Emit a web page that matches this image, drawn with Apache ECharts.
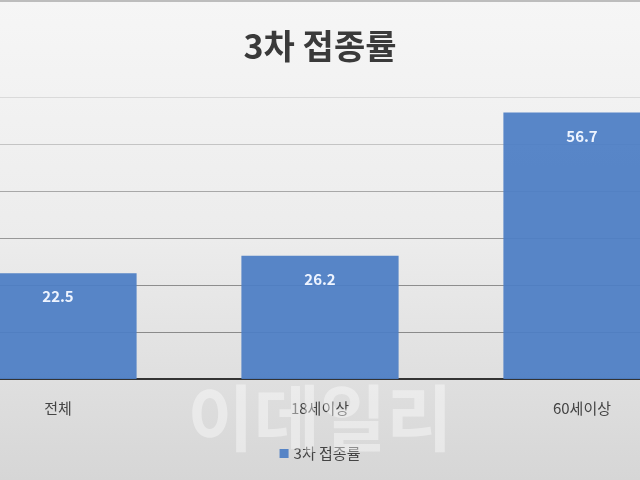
<!DOCTYPE html>
<html><head><meta charset="utf-8">
<script src="https://cdn.jsdelivr.net/npm/echarts@6/dist/echarts.min.js"></script>
<style>html,body{margin:0;padding:0}#c{width:640px;height:480px}</style>
</head><body><div id="c"></div>
<script>
const categories = ['전체', '18세이상', '60세이상'];
const values = [22.5, 26.2, 56.7];
const seriesName = '3차 접종률';
const titleText = '3차 접종률';

const chart = echarts.init(document.getElementById('c'));
const font = '"Noto Sans CJK KR", "Noto Sans", sans-serif';
chart.setOption({
  backgroundColor: new echarts.graphic.LinearGradient(0, 0, 0, 1, [
    {offset: 0, color: '#f6f6f6'},
    {offset: 0.5, color: '#ececec'},
    {offset: 1, color: '#d6d6d6'}
  ]),
  title: {
    text: titleText, left: 'center', top: 24,
    textStyle: {fontFamily: font, fontSize: 34, fontWeight: 'bold', color: '#3a3a3a'}
  },
  legend: {
    bottom: 14, left: 'center', itemWidth: 9, itemHeight: 9, icon: 'rect', itemGap: 4,
    textStyle: {fontFamily: font, fontSize: 15, color: '#444'}
  },
  grid: {left: -73, width: 786, top: 97, height: 282, outerBoundsMode: 'none', containLabel: false},
  xAxis: {
    type: 'category', data: categories,
    axisLine: {lineStyle: {color: '#333', width: 2}},
    axisTick: {show: false},
    axisLabel: {fontFamily: font, fontSize: 15, color: '#444', margin: 22}
  },
  yAxis: {
    type: 'value', min: 0, max: 60, interval: 10,
    axisLabel: {show: false}, axisLine: {show: false}, axisTick: {show: false},
    splitLine: {lineStyle: {color: ['#888', '#8a8a8a', '#8e8e8e', '#989898', '#a8a8a8', '#c4c4c4', '#dadada'], width: 1}}
  },
  series: [{
    name: seriesName, type: 'bar', data: values, barWidth: '60%',
    itemStyle: {color: 'rgba(78,126,197,0.94)'},
    label: {
      show: true, position: 'insideTop', distance: 16,
      fontFamily: font, fontSize: 15, fontWeight: 'bold', color: '#eef4ff'
    }
  }],
  graphic: [{
    type: 'rect', left: 0, top: 0, shape: {width: 640, height: 2}, style: {fill: '#bdbdbd'}
  }, {
    type: 'text', left: 'center', top: 382, z: 100,
    style: {text: '이데일리', fontFamily: font, fontSize: 72, fontWeight: 'bold', fill: 'rgba(255,255,255,0.4)'}
  }]
});
</script></body></html>
